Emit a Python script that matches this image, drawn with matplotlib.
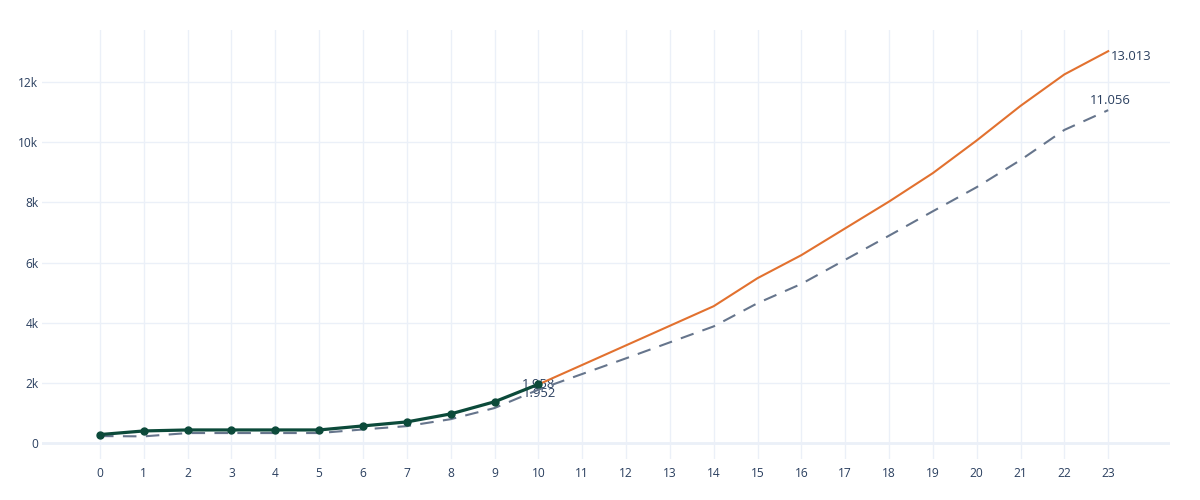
import matplotlib
matplotlib.use("Agg")
import matplotlib.pyplot as plt
from matplotlib.ticker import FixedLocator, FuncFormatter

# ---- data ----
actual_x = list(range(0, 11))
actual_y = [290, 410, 443, 443, 443, 443, 577, 710, 975, 1378, 1958]

forecast_x = list(range(10, 24))
forecast_y = [1952, 2600, 3250, 3900, 4550, 5480, 6244, 7133, 8022, 8967,
              10050, 11198, 12242, 13013]

baseline_x = list(range(0, 24))
baseline_y = [240, 230, 340, 340, 340, 340, 460, 570, 800, 1170, 1780, 2300,
              2820, 3350, 3880, 4650, 5290, 6090, 6890, 7700, 8500, 9400,
              10400, 11056]

x_ticks = list(range(0, 24))
y_ticks = [0, 2000, 4000, 6000, 8000, 10000, 12000]
y_tick_labels = ["0", "2k", "4k", "6k", "8k", "10k", "12k"]

# ---- style ----
plt.rcParams['font.family'] = ['Open Sans', 'DejaVu Sans']
TEXT = "#2a3f5f"
GRID = "#ebf0f8"
DARK = "#0c4a3a"
ORANGE = "#e2712f"
SLATE = "#66758c"

fig = plt.figure(figsize=(12, 5), dpi=100)
ax = fig.add_axes([42/1200, 1 - 459/500, (1170-42)/1200, (459-30)/500])

ax.set_xlim(-1.323, 24.41)
ax.set_ylim(-521, 13716)

ax.xaxis.set_major_locator(FixedLocator(x_ticks))
ax.yaxis.set_major_locator(FixedLocator(y_ticks))
ax.yaxis.set_major_formatter(FuncFormatter(lambda v, p: y_tick_labels[y_ticks.index(int(round(v)))] if int(round(v)) in y_ticks else ""))

ax.grid(True, color=GRID, linewidth=1.0)
ax.axhline(0, color=GRID, linewidth=2.0, zorder=0.6)
ax.set_axisbelow(True)
for s in ax.spines.values():
    s.set_visible(False)
ax.tick_params(axis='both', length=0, labelsize=8.64, labelcolor=TEXT)
ax.tick_params(axis='x', pad=6)
ax.tick_params(axis='y', pad=2.5)

ax.plot(baseline_x, baseline_y, color=SLATE, linewidth=1.5,
        linestyle=(0, (6.5, 4.5)), zorder=2)
ax.plot(forecast_x, forecast_y, color=ORANGE, linewidth=1.5, zorder=2.2)
ax.plot(actual_x, actual_y, color=DARK, linewidth=2.3, marker='o',
        markersize=5, zorder=2.5)

fs = 9.4
ax.annotate("1.958", (actual_x[-1], actual_y[-1]), xytext=(0, 0),
            textcoords='offset points', ha='center', va='center',
            fontsize=fs, color=TEXT, zorder=1.5)
ax.annotate("1.952", (forecast_x[0], forecast_y[0]), xytext=(1, -6.3),
            textcoords='offset points', ha='center', va='center',
            fontsize=fs, color=TEXT, zorder=1.5)
ax.annotate("13.013", (forecast_x[-1], forecast_y[-1]), xytext=(2, -3.5),
            textcoords='offset points', ha='left', va='center',
            fontsize=fs, color=TEXT)
ax.annotate("11.056", (baseline_x[-1], baseline_y[-1]), xytext=(1.5, 2.5),
            textcoords='offset points', ha='center', va='bottom',
            fontsize=fs, color=TEXT)

fig.savefig("out.png", dpi=100, facecolor="white")
